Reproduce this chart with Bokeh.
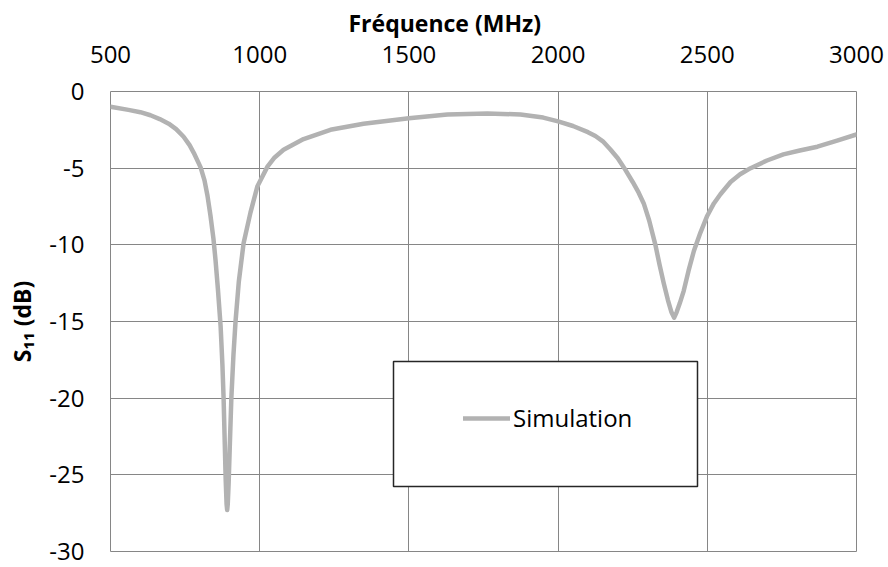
from bokeh.plotting import figure
from bokeh.models import Range1d, FixedTicker, BoxAnnotation
from bokeh.embed import file_html
from bokeh.resources import INLINE

# ---- data ----
freq_mhz = [500, 560, 600, 634, 665, 695, 720, 745, 765, 779, 802, 815, 825, 835, 845,
            852, 860, 869, 875, 879, 883, 886, 889, 891, 893, 896, 900, 905, 912, 919, 930,
            946, 969, 992, 1026, 1050, 1080, 1147, 1237, 1348, 1500, 1629, 1763, 1874,
            1950, 2000, 2050, 2100, 2125, 2150, 2176, 2200, 2222, 2250, 2270, 2287, 2305,
            2326, 2340, 2354, 2368, 2380, 2389, 2397, 2408, 2421, 2437, 2455, 2477, 2500,
            2522, 2544, 2578, 2610, 2645, 2700, 2755, 2810, 2869, 2935, 3000]
s11_db = [-1.0, -1.2, -1.35, -1.55, -1.8, -2.1, -2.45, -2.95, -3.5, -4.0, -4.95, -5.8, -6.8, -8.1, -9.6,
          -11.0, -12.9, -15.3, -17.8, -20.0, -23.0, -25.3, -26.9, -27.3, -26.9, -25.5, -23.0, -20.0, -17.2, -15.0, -12.4,
          -9.9, -7.9, -6.2, -4.9, -4.3, -3.8, -3.1, -2.5, -2.1, -1.75, -1.5, -1.43, -1.5,
          -1.7, -1.95, -2.25, -2.65, -2.9, -3.25, -3.8, -4.35, -5.0, -5.9, -6.6, -7.3, -8.4,
          -10.0, -11.3, -12.5, -13.6, -14.4, -14.75, -14.4, -13.8, -13.0, -11.7, -10.4, -9.2, -8.1,
          -7.3, -6.7, -5.9, -5.4, -5.0, -4.5, -4.1, -3.85, -3.6, -3.2, -2.8]
series_name = "Simulation"
x_ticks = [500, 1000, 1500, 2000, 2500, 3000]
y_ticks = [0, -5, -10, -15, -20, -25, -30]
x_title = "Fréquence (MHz)"
y_title = "S₁₁ (dB)"

GRID = "#868686"
CURVE = "#b2b2b2"
FONT = "Open Sans"

W, H = 888, 567
p = figure(width=W, height=H, output_backend="svg", toolbar_location=None,
           x_axis_location="above", y_axis_location="left",
           x_range=Range1d(500, 3000), y_range=Range1d(-30, 0),
           min_border_left=110, min_border_top=90, min_border_right=32, min_border_bottom=16)
p.background_fill_color = "white"
p.border_fill_color = "white"
p.outline_line_color = GRID
p.outline_line_width = 1

# title over the chart
p.title.text = x_title
p.title.align = "left"
p.title.offset = 238
p.title.text_font = FONT
p.title.text_font_size = "23px"
p.title.text_font_style = "bold"
p.title.text_color = "#000000"
p.title.standoff = 8

for ax, ticks in ((p.xaxis[0], x_ticks), (p.yaxis[0], y_ticks)):
    ax.ticker = FixedTicker(ticks=ticks)
    ax.major_label_overrides = {t: str(t) for t in ticks}
    ax.axis_line_color = None
    ax.major_tick_line_color = None
    ax.minor_tick_line_color = None
    ax.major_tick_out = 0
    ax.major_tick_in = 0
    ax.major_label_text_font = FONT
    ax.major_label_text_font_size = "24px"
    ax.major_label_text_color = "#000000"
p.xaxis[0].major_label_standoff = 29
p.yaxis[0].major_label_standoff = 26

p.yaxis[0].axis_label = y_title
p.yaxis[0].axis_label_text_font = FONT
p.yaxis[0].axis_label_text_font_size = "23px"
p.yaxis[0].axis_label_text_font_style = "bold"
p.yaxis[0].axis_label_text_color = "#000000"
p.yaxis[0].axis_label_standoff = 8

p.xgrid.ticker = FixedTicker(ticks=x_ticks)
p.ygrid.ticker = FixedTicker(ticks=y_ticks)
for g in (p.xgrid[0], p.ygrid[0]):
    g.grid_line_color = GRID
    g.grid_line_width = 1

# legend frame (drawn before the legend itself)
box = BoxAnnotation(left=283, right=587, bottom=65, top=190,
                    left_units="screen", right_units="screen",
                    bottom_units="screen", top_units="screen",
                    fill_color="white", fill_alpha=1.0,
                    line_color="#262626", line_width=1.5, line_alpha=1.0)
p.add_layout(box)

p.line(freq_mhz, s11_db, line_color=CURVE, line_width=4.5,
       line_join="round", line_cap="round", legend_label=series_name)

lg = p.legend[0]
lg.location = (353, 117)
lg.border_line_color = None
lg.background_fill_alpha = 0
lg.padding = 0
lg.margin = 0
lg.glyph_width = 47
lg.glyph_height = 20
lg.label_height = 20
lg.label_standoff = 3
lg.label_text_font = FONT
lg.label_text_font_size = "24px"
lg.label_text_color = "#000000"

open("out.html", "w").write(file_html(p, INLINE))
